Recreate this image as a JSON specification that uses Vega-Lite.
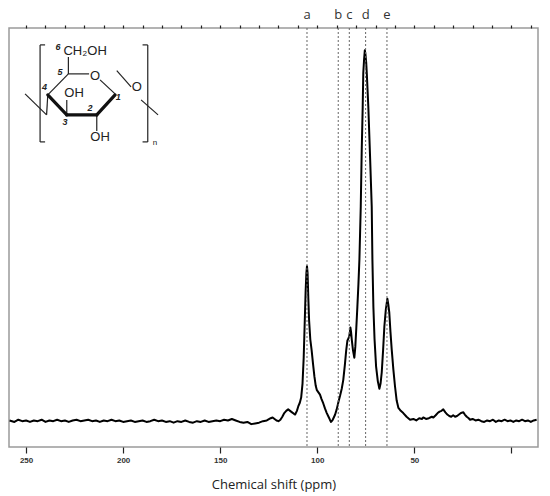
{
  "$schema": "https://vega.github.io/schema/vega-lite/v6.json",
  "width": 529,
  "height": 419,
  "autosize": {"type": "none"},
  "padding": {"left": 9, "top": 28, "right": 12, "bottom": 49},
  "config": {
    "view": {"stroke": "#9a9a9a", "strokeWidth": 1.5},
    "font": "Liberation Sans"
  },
  "datasets": {
    "spectrum": [
      {"ppm": 258.5, "i": -0.05}, {"ppm": 256, "i": -0.07}, {"ppm": 254, "i": -0.04}, {"ppm": 252, "i": -0.06},
      {"ppm": 250, "i": -0.05}, {"ppm": 248, "i": -0.07}, {"ppm": 246, "i": -0.05}, {"ppm": 244, "i": -0.06},
      {"ppm": 242, "i": -0.04}, {"ppm": 240, "i": -0.07}, {"ppm": 238, "i": -0.05}, {"ppm": 236, "i": -0.06},
      {"ppm": 234, "i": -0.04}, {"ppm": 232, "i": -0.06}, {"ppm": 230, "i": -0.05}, {"ppm": 228, "i": -0.07},
      {"ppm": 226, "i": -0.05}, {"ppm": 224, "i": -0.04}, {"ppm": 222, "i": -0.06}, {"ppm": 220, "i": -0.05},
      {"ppm": 218, "i": -0.04}, {"ppm": 216, "i": -0.06}, {"ppm": 214, "i": -0.05}, {"ppm": 212, "i": -0.07},
      {"ppm": 210, "i": -0.05}, {"ppm": 208, "i": -0.06}, {"ppm": 206, "i": -0.04}, {"ppm": 204, "i": -0.06},
      {"ppm": 202, "i": -0.05}, {"ppm": 200, "i": -0.07}, {"ppm": 198, "i": -0.06}, {"ppm": 196, "i": -0.05},
      {"ppm": 194, "i": -0.07}, {"ppm": 192, "i": -0.06}, {"ppm": 190, "i": -0.05}, {"ppm": 188, "i": -0.07},
      {"ppm": 186, "i": -0.06}, {"ppm": 184, "i": -0.04}, {"ppm": 182, "i": -0.06}, {"ppm": 180, "i": -0.05},
      {"ppm": 178, "i": -0.07}, {"ppm": 176, "i": -0.06}, {"ppm": 174, "i": -0.08}, {"ppm": 172, "i": -0.06},
      {"ppm": 170, "i": -0.07}, {"ppm": 168, "i": -0.05}, {"ppm": 166, "i": -0.07}, {"ppm": 164, "i": -0.08},
      {"ppm": 162, "i": -0.06}, {"ppm": 160, "i": -0.07}, {"ppm": 158, "i": -0.05}, {"ppm": 156, "i": -0.07},
      {"ppm": 154, "i": -0.06}, {"ppm": 152, "i": -0.05}, {"ppm": 150, "i": -0.06}, {"ppm": 148, "i": -0.04},
      {"ppm": 146, "i": -0.05}, {"ppm": 144, "i": -0.03}, {"ppm": 142, "i": -0.05}, {"ppm": 140, "i": -0.07},
      {"ppm": 138, "i": -0.08}, {"ppm": 136, "i": -0.07}, {"ppm": 134, "i": -0.1}, {"ppm": 132, "i": -0.09},
      {"ppm": 130, "i": -0.08}, {"ppm": 128, "i": -0.06}, {"ppm": 126, "i": -0.05}, {"ppm": 124, "i": -0.02},
      {"ppm": 123, "i": -0.01}, {"ppm": 122, "i": -0.03}, {"ppm": 121, "i": -0.05}, {"ppm": 120, "i": -0.06},
      {"ppm": 119, "i": -0.04}, {"ppm": 118, "i": 0.0}, {"ppm": 117, "i": 0.05}, {"ppm": 116, "i": 0.08},
      {"ppm": 115, "i": 0.1}, {"ppm": 114, "i": 0.08}, {"ppm": 113, "i": 0.06}, {"ppm": 112, "i": 0.04},
      {"ppm": 111.4, "i": 0.03}, {"ppm": 110.5, "i": 0.08}, {"ppm": 109.8, "i": 0.14}, {"ppm": 109, "i": 0.19},
      {"ppm": 108.3, "i": 0.26}, {"ppm": 107.6, "i": 0.45}, {"ppm": 107, "i": 0.8}, {"ppm": 106.5, "i": 1.25},
      {"ppm": 106.0, "i": 1.7}, {"ppm": 105.6, "i": 1.95}, {"ppm": 105.3, "i": 2.04}, {"ppm": 105.0, "i": 1.95},
      {"ppm": 104.6, "i": 1.6}, {"ppm": 104.2, "i": 1.3}, {"ppm": 103.6, "i": 1.05}, {"ppm": 102.9, "i": 0.9},
      {"ppm": 102.2, "i": 0.72}, {"ppm": 101.5, "i": 0.55}, {"ppm": 100.8, "i": 0.42}, {"ppm": 100.2, "i": 0.36},
      {"ppm": 99.4, "i": 0.33}, {"ppm": 98.6, "i": 0.3}, {"ppm": 97.8, "i": 0.24}, {"ppm": 96.9, "i": 0.18},
      {"ppm": 96.0, "i": 0.11}, {"ppm": 95.1, "i": 0.05}, {"ppm": 94.2, "i": 0.0}, {"ppm": 93.5, "i": -0.04},
      {"ppm": 92.9, "i": -0.07}, {"ppm": 92.2, "i": -0.05}, {"ppm": 91.5, "i": -0.01}, {"ppm": 90.8, "i": 0.03},
      {"ppm": 90.0, "i": 0.1}, {"ppm": 89.1, "i": 0.2}, {"ppm": 88.3, "i": 0.28}, {"ppm": 87.4, "i": 0.38},
      {"ppm": 86.6, "i": 0.5}, {"ppm": 85.8, "i": 0.7}, {"ppm": 85.1, "i": 0.9}, {"ppm": 84.5, "i": 1.03},
      {"ppm": 84.0, "i": 1.06}, {"ppm": 83.6, "i": 1.08}, {"ppm": 83.2, "i": 1.15}, {"ppm": 82.95, "i": 1.21},
      {"ppm": 82.6, "i": 1.15}, {"ppm": 82.2, "i": 1.04}, {"ppm": 81.6, "i": 0.9}, {"ppm": 80.9, "i": 0.8},
      {"ppm": 80.4, "i": 0.95}, {"ppm": 79.9, "i": 1.2}, {"ppm": 79.35, "i": 1.49}, {"ppm": 78.8, "i": 1.8},
      {"ppm": 78.3, "i": 2.13}, {"ppm": 77.6, "i": 2.85}, {"ppm": 77.1, "i": 3.62}, {"ppm": 76.6, "i": 4.2},
      {"ppm": 76.3, "i": 4.66}, {"ppm": 75.9, "i": 4.84}, {"ppm": 75.5, "i": 4.97}, {"ppm": 75.2, "i": 4.92},
      {"ppm": 74.8, "i": 4.8}, {"ppm": 74.5, "i": 4.66}, {"ppm": 73.7, "i": 4.2}, {"ppm": 72.8, "i": 3.52},
      {"ppm": 71.95, "i": 2.85}, {"ppm": 71.6, "i": 2.13}, {"ppm": 71.1, "i": 1.49}, {"ppm": 70.5, "i": 1.05},
      {"ppm": 69.7, "i": 0.68}, {"ppm": 68.8, "i": 0.48}, {"ppm": 68.0, "i": 0.38}, {"ppm": 67.4, "i": 0.45},
      {"ppm": 66.8, "i": 0.6}, {"ppm": 66.1, "i": 0.9}, {"ppm": 65.45, "i": 1.22}, {"ppm": 64.7, "i": 1.45},
      {"ppm": 63.9, "i": 1.6}, {"ppm": 63.4, "i": 1.52}, {"ppm": 62.9, "i": 1.41}, {"ppm": 62.3, "i": 1.15},
      {"ppm": 61.65, "i": 0.91}, {"ppm": 60.8, "i": 0.64}, {"ppm": 59.95, "i": 0.41}, {"ppm": 59.1, "i": 0.22},
      {"ppm": 58.2, "i": 0.12}, {"ppm": 57.0, "i": 0.08}, {"ppm": 55.7, "i": 0.05}, {"ppm": 54.0, "i": 0.0},
      {"ppm": 52.2, "i": -0.04}, {"ppm": 50.5, "i": -0.03}, {"ppm": 49, "i": -0.05}, {"ppm": 47.5, "i": -0.02},
      {"ppm": 46, "i": -0.03}, {"ppm": 45.4, "i": -0.01}, {"ppm": 44, "i": -0.03}, {"ppm": 42.5, "i": -0.02},
      {"ppm": 41, "i": 0.0}, {"ppm": 40.2, "i": -0.01}, {"ppm": 39, "i": 0.02}, {"ppm": 38, "i": 0.05},
      {"ppm": 37, "i": 0.07}, {"ppm": 36, "i": 0.08}, {"ppm": 35.1, "i": 0.1}, {"ppm": 34, "i": 0.06},
      {"ppm": 33, "i": 0.03}, {"ppm": 32, "i": 0.01}, {"ppm": 31, "i": 0.0}, {"ppm": 30, "i": 0.02},
      {"ppm": 29, "i": 0.0}, {"ppm": 28, "i": 0.01}, {"ppm": 27, "i": 0.03}, {"ppm": 26, "i": 0.05},
      {"ppm": 24.75, "i": 0.06}, {"ppm": 24, "i": 0.03}, {"ppm": 23, "i": 0.0}, {"ppm": 22, "i": -0.02},
      {"ppm": 21.3, "i": -0.04}, {"ppm": 20, "i": -0.03}, {"ppm": 18.5, "i": -0.05}, {"ppm": 17, "i": -0.04},
      {"ppm": 15.5, "i": -0.06}, {"ppm": 14, "i": -0.07}, {"ppm": 12.5, "i": -0.05}, {"ppm": 11, "i": -0.06},
      {"ppm": 9.5, "i": -0.04}, {"ppm": 8, "i": -0.07}, {"ppm": 6.5, "i": -0.05}, {"ppm": 5, "i": -0.06},
      {"ppm": 3.5, "i": -0.04}, {"ppm": 2, "i": -0.06}, {"ppm": 0.5, "i": -0.05}, {"ppm": -1, "i": -0.07},
      {"ppm": -2.5, "i": -0.05}, {"ppm": -4, "i": -0.06}, {"ppm": -5.5, "i": -0.04}, {"ppm": -7, "i": -0.06},
      {"ppm": -8.5, "i": -0.05}, {"ppm": -10, "i": -0.07}, {"ppm": -11.5, "i": -0.05}, {"ppm": -13, "i": -0.04}
    ],
    "peaks": [
      {"label": "a", "ppm": 105.3},
      {"label": "b", "ppm": 89.2},
      {"label": "c", "ppm": 83.5},
      {"label": "d", "ppm": 75.1},
      {"label": "e", "ppm": 64.1}
    ],
    "bonds": [
      {"kind": "plain", "x": 242.79, "y": 5.041, "x2": 242.79, "y2": 3.726},
      {"kind": "plain", "x": 242.79, "y": 5.041, "x2": 240.21, "y2": 5.041},
      {"kind": "plain", "x": 242.79, "y": 3.726, "x2": 240.21, "y2": 3.726},
      {"kind": "plain", "x": 187.32, "y": 5.041, "x2": 187.32, "y2": 3.726},
      {"kind": "plain", "x": 190.0, "y": 5.041, "x2": 187.32, "y2": 5.041},
      {"kind": "plain", "x": 190.0, "y": 3.726, "x2": 187.32, "y2": 3.726},
      {"kind": "plain", "x": 238.82, "y": 4.363, "x2": 228.21, "y2": 4.648},
      {"kind": "plain", "x": 228.21, "y": 4.648, "x2": 217.55, "y2": 4.648},
      {"kind": "plain", "x": 211.89, "y": 4.566, "x2": 204.16, "y2": 4.377},
      {"kind": "bold", "x": 204.16, "y": 4.363, "x2": 213.59, "y2": 4.092},
      {"kind": "bold", "x": 213.59, "y": 4.092, "x2": 229.04, "y2": 4.092},
      {"kind": "bold", "x": 229.04, "y": 4.092, "x2": 238.82, "y2": 4.363},
      {"kind": "plain", "x": 228.21, "y": 4.648, "x2": 228.21, "y2": 4.878},
      {"kind": "plain", "x": 229.04, "y": 4.092, "x2": 229.04, "y2": 4.295},
      {"kind": "plain", "x": 213.59, "y": 4.092, "x2": 213.59, "y2": 3.875},
      {"kind": "plain", "x": 238.82, "y": 4.363, "x2": 239.44, "y2": 4.092},
      {"kind": "plain", "x": 250.52, "y": 4.377, "x2": 239.44, "y2": 4.092},
      {"kind": "plain", "x": 203.28, "y": 4.692, "x2": 195.92, "y2": 4.472},
      {"kind": "plain", "x": 190.77, "y": 4.295, "x2": 182.01, "y2": 4.092}
    ],
    "atoms": [
      {"kind": "atom", "text": "CH₂OH", "x": 219.6, "y": 4.959},
      {"kind": "atom", "text": "O", "x": 214.46, "y": 4.621},
      {"kind": "atom", "text": "OH", "x": 225.28, "y": 4.39},
      {"kind": "atom", "text": "OH", "x": 211.89, "y": 3.794},
      {"kind": "atom", "text": "O", "x": 192.98, "y": 4.472},
      {"kind": "locant", "text": "6", "x": 233.52, "y": 5.014},
      {"kind": "locant", "text": "5", "x": 232.49, "y": 4.679},
      {"kind": "locant", "text": "4", "x": 240.57, "y": 4.467},
      {"kind": "locant", "text": "1", "x": 202.46, "y": 4.332},
      {"kind": "locant", "text": "2", "x": 217.04, "y": 4.187},
      {"kind": "locant", "text": "3", "x": 229.91, "y": 3.997},
      {"kind": "sub", "text": "n", "x": 183.56, "y": 3.713}
    ]
  },
  "resolve": {"axis": {"x": "independent"}},
  "layer": [
    {
      "data": {"name": "spectrum"},
      "mark": {"type": "line", "color": "black", "strokeWidth": 2, "strokeJoin": "round"},
      "encoding": {
        "x": {
          "field": "ppm",
          "type": "quantitative",
          "scale": {"domain": [-13.7, 258.8], "reverse": true, "nice": false, "zero": false},
          "axis": {
            "values": [250, 200, 150, 100, 50, 0],
            "labelExpr": "datum.value == 0 ? '' : datum.label",
            "domain": false,
            "grid": false,
            "tickSize": 6,
            "tickColor": "#222",
            "tickWidth": 1.2,
            "labelFontSize": 8,
            "labelFontWeight": "bold",
            "labelColor": "#333",
            "labelPadding": 3,
            "title": "Chemical shift (ppm)",
            "titleFont": "Open Sans",
            "titleFontSize": 13,
            "titleFontWeight": "normal",
            "titleColor": "#222",
            "titlePadding": 14
          }
        },
        "y": {
          "field": "i",
          "type": "quantitative",
          "scale": {"domain": [-0.41, 5.27], "nice": false, "zero": false},
          "axis": {
            "orient": "right",
            "values": [0, 1, 2, 3, 4, 5],
            "domain": false,
            "grid": false,
            "labels": false,
            "tickSize": 2,
            "tickWidth": 2,
            "tickColor": "#aaa",
            "offset": 4,
            "title": null
          }
        }
      }
    },
    {
      "data": {"name": "peaks"},
      "mark": {"type": "rule", "color": "#666", "strokeDash": [2, 2], "strokeWidth": 1},
      "encoding": {
        "x": {
          "field": "ppm",
          "type": "quantitative",
          "axis": {
            "values": [250, 240, 230, 220, 210, 200, 190, 180, 170, 160, 150, 140, 130, 120, 110, 100, 90, 80, 70, 60, 50, 40, 30, 20, 10, 0, -10],
            "domain": false,
            "grid": false,
            "labels": false,
            "tickSize": 3,
            "tickColor": "#222",
            "tickWidth": 1.2,
            "title": null
          }
        }
      }
    },
    {
      "data": {"name": "peaks"},
      "mark": {"type": "text", "font": "Open Sans", "fontSize": 13, "color": "#333", "baseline": "middle"},
      "encoding": {
        "x": {"field": "ppm", "type": "quantitative", "axis": null},
        "y": {"datum": 5.45, "type": "quantitative", "axis": null},
        "text": {"field": "label"}
      }
    },
    {
      "data": {"name": "bonds"},
      "transform": [{"filter": "datum.kind == 'plain'"}],
      "mark": {"type": "rule", "color": "#222", "strokeWidth": 1.2},
      "encoding": {
        "x": {"field": "x", "type": "quantitative", "axis": null},
        "y": {"field": "y", "type": "quantitative", "axis": null},
        "x2": {"field": "x2"},
        "y2": {"field": "y2"}
      }
    },
    {
      "data": {"name": "bonds"},
      "transform": [{"filter": "datum.kind == 'bold'"}],
      "mark": {"type": "rule", "color": "#111", "strokeWidth": 3.2, "strokeCap": "round"},
      "encoding": {
        "x": {"field": "x", "type": "quantitative", "axis": null},
        "y": {"field": "y", "type": "quantitative", "axis": null},
        "x2": {"field": "x2"},
        "y2": {"field": "y2"}
      }
    },
    {
      "data": {"name": "atoms"},
      "transform": [{"filter": "datum.kind == 'atom'"}],
      "mark": {"type": "text", "font": "Liberation Sans", "fontSize": 13, "fill": "#222", "baseline": "middle", "align": "center"},
      "encoding": {
        "x": {"field": "x", "type": "quantitative", "axis": null},
        "y": {"field": "y", "type": "quantitative", "axis": null},
        "text": {"field": "text"}
      }
    },
    {
      "data": {"name": "atoms"},
      "transform": [{"filter": "datum.kind == 'locant'"}],
      "mark": {"type": "text", "font": "Liberation Sans", "fontSize": 9, "fontWeight": "bold", "fontStyle": "italic", "fill": "#222", "baseline": "middle", "align": "center"},
      "encoding": {
        "x": {"field": "x", "type": "quantitative", "axis": null},
        "y": {"field": "y", "type": "quantitative", "axis": null},
        "text": {"field": "text"}
      }
    },
    {
      "data": {"name": "atoms"},
      "transform": [{"filter": "datum.kind == 'sub'"}],
      "mark": {"type": "text", "font": "Liberation Sans", "fontSize": 8, "fill": "#222", "baseline": "middle", "align": "center"},
      "encoding": {
        "x": {"field": "x", "type": "quantitative", "axis": null},
        "y": {"field": "y", "type": "quantitative", "axis": null},
        "text": {"field": "text"}
      }
    }
  ]
}
